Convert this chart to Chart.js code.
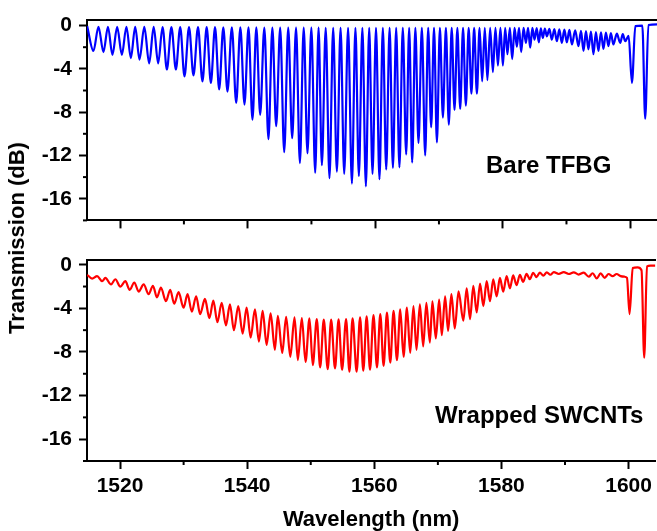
<!DOCTYPE html>
<html>
<head>
<meta charset="utf-8">
<script src="https://cdn.jsdelivr.net/npm/chart.js@4.4.1/dist/chart.umd.min.js"></script>
<style>
  html, body { margin: 0; padding: 0; background: #fff; }
  #wrap { position: relative; width: 657px; height: 531px; overflow: hidden;
          font-family: "Liberation Sans", Arial, sans-serif; font-weight: bold; color: #000; }
  canvas { position: absolute; left: 0; }
  #topChart { top: 0; }
  #botChart { top: 240px; }
  .note { position: absolute; font-size: 24px; line-height: 24px; white-space: nowrap; }
  #ylab { position: absolute; left: 17px; top: 238px; font-size: 22px; line-height: 22px;
          white-space: nowrap; transform: translate(-50%, -50%) rotate(-90deg); }
</style>
</head>
<body>
<div id="wrap">
  <canvas id="topChart" width="657" height="240"></canvas>
  <canvas id="botChart" width="657" height="291"></canvas>
  <div class="note" style="left:486px; top:153px;">Bare TFBG</div>
  <div class="note" style="left:435px; top:403px;">Wrapped SWCNTs</div>
  <div id="ylab">Transmission (dB)</div>
</div>
<script>
// axis ranges / ticks
const xRange = [1514.8, 1604.2];
const yRangeTop = [-18, 0.55];
const yRangeBot = [-18, 0.47];
const xStep = 10, xLabelEvery = 20;
const yStep = 2, yLabelEvery = 4;

// Bare TFBG: peaks and dips, in order
const topNm = [
  1514.82,
  1515.81, 1516.60, 1517.38, 1518.09, 1518.79, 1519.53, 1520.27, 1520.98, 1521.68, 1522.36,
  1523.03, 1523.79, 1524.55, 1525.26, 1525.96, 1526.65, 1527.33, 1528.04, 1528.74, 1529.42,
  1530.09, 1530.80, 1531.50, 1532.21, 1532.91, 1533.57, 1534.23, 1534.88, 1535.53, 1536.18,
  1536.83, 1537.52, 1538.20, 1538.85, 1539.50, 1540.13, 1540.75, 1541.36, 1541.96, 1542.61,
  1543.26, 1543.87, 1544.47, 1545.10, 1545.73, 1546.36, 1546.98, 1547.59, 1548.19, 1548.79,
  1549.38, 1549.99, 1550.59, 1551.12, 1551.64, 1552.24, 1552.83, 1553.41, 1553.99, 1554.57,
  1555.14, 1555.75, 1556.35, 1556.90, 1557.44, 1557.99, 1558.54, 1559.06, 1559.58, 1560.13,
  1560.67, 1561.20, 1561.73, 1562.26, 1562.78, 1563.29, 1563.80, 1564.33, 1564.86, 1565.33,
  1565.80, 1566.30, 1566.79, 1567.32, 1567.84, 1568.31, 1568.78, 1569.23, 1569.68, 1570.15,
  1570.62, 1571.09, 1571.55, 1572.00, 1572.44, 1572.89, 1573.33, 1573.78, 1574.22, 1574.66,
  1575.09, 1575.52, 1575.95, 1576.37, 1576.78, 1577.19, 1577.60, 1578.03, 1578.46, 1578.86,
  1579.25, 1579.64, 1580.03, 1580.39, 1580.74, 1581.12, 1581.49, 1581.86, 1582.22, 1582.56,
  1582.90, 1583.27, 1583.64, 1583.98, 1584.31, 1584.65, 1584.99, 1585.33, 1585.66, 1585.98,
  1586.29, 1586.61, 1586.93, 1587.32, 1587.70, 1588.10, 1588.49, 1588.88, 1589.27, 1589.67,
  1590.06, 1590.46, 1590.85, 1591.37, 1591.88, 1592.28, 1592.67, 1593.06, 1593.44, 1593.84,
  1594.23, 1594.62, 1595.01, 1595.41, 1595.80, 1596.19, 1596.58, 1596.97, 1597.36, 1597.90,
  1598.43, 1598.83, 1599.22, 1599.75,
  1600.27, 1600.80, 1601.90, 1602.35, 1602.85, 1604.24
];
const topDb = [
  -0.05,
  -2.35, -0.12, -2.45, -0.12, -2.7, -0.12, -2.7, -0.12, -3.0, -0.12,
  -3.15, -0.12, -3.5, -0.12, -3.5, -0.14, -4.05, -0.14, -4.05, -0.14,
  -4.7, -0.15, -4.6, -0.15, -5.15, -0.15, -5.3, -0.15, -5.9, -0.16,
  -6.1, -0.16, -7.15, -0.16, -7.3, -0.17, -8.7, -0.17, -8.25, -0.18,
  -10.5, -0.18, -9.3, -0.18, -11.7, -0.2, -10.4, -0.2, -12.7, -0.2,
  -11.8, -0.2, -13.6, -0.2, -12.9, -0.22, -14.1, -0.22, -13.5, -0.22,
  -13.7, -0.22, -14.6, -0.22, -13.9, -0.22, -14.85, -0.22, -13.7, -0.22,
  -14.2, -0.22, -13.3, -0.22, -13.15, -0.22, -13.1, -0.22, -11.9, -0.22,
  -12.65, -0.22, -10.85, -0.22, -12.0, -0.22, -9.4, -0.22, -10.8, -0.22,
  -8.5, -0.22, -9.15, -0.22, -7.8, -0.22, -7.7, -0.22, -7.4, -0.22,
  -6.3, -0.22, -6.3, -0.22, -5.15, -0.22, -5.05, -0.22, -4.3, -0.22,
  -3.7, -0.22, -3.7, -0.22, -2.65, -0.22, -3.1, -0.22, -1.95, -0.22,
  -2.45, -0.22, -1.6, -0.22, -2.05, -0.22, -1.3, -0.24, -1.55, -0.25,
  -1.15, -0.28, -1.0, -0.3, -1.3, -0.32, -1.45, -0.35, -1.6, -0.38,
  -1.55, -0.4, -1.75, -0.45, -1.9, -0.5, -2.35, -0.52, -2.2, -0.55,
  -2.65, -0.6, -2.35, -0.62, -2.15, -0.65, -1.9, -0.7, -1.75, -0.75,
  -1.6, -0.8, -1.45, -0.95,
  -5.3, -0.05, 0.0, -8.6, 0.05, 0.1
];

// Wrapped SWCNTs: peaks and troughs, in order
const botNm = [
  1514.82, 1515.61, 1516.39, 1517.18, 1517.69, 1518.59, 1519.26, 1520.05, 1520.83, 1521.52,
  1522.24, 1522.93, 1523.72, 1524.50, 1525.18, 1525.80, 1526.43, 1527.22, 1527.89, 1528.52,
  1529.21, 1529.99, 1530.62, 1531.29, 1531.97, 1532.60, 1533.36, 1534.05, 1534.68, 1535.31,
  1535.99, 1536.66, 1537.29, 1537.91, 1538.60, 1539.29, 1539.91, 1540.55, 1541.22, 1541.85,
  1542.43, 1543.06, 1543.69, 1544.36, 1544.82, 1545.52, 1546.13, 1546.78, 1547.45, 1547.97,
  1548.60, 1549.18, 1549.80, 1550.32, 1550.95, 1551.48, 1552.05, 1552.67, 1553.21, 1553.82,
  1554.38, 1554.93, 1555.56, 1556.08, 1556.58, 1557.22, 1557.76, 1558.27, 1558.79, 1559.33,
  1559.87, 1560.42, 1560.94, 1561.46, 1561.99, 1562.51, 1563.03, 1563.56, 1564.08, 1564.60,
  1565.13, 1565.65, 1566.16, 1566.64, 1567.17, 1567.69, 1568.19, 1568.74, 1569.14, 1569.68,
  1570.20, 1570.62, 1571.14, 1571.61, 1572.13, 1572.66, 1573.25, 1574.01, 1574.53, 1575.06,
  1575.58, 1576.11, 1576.63, 1577.15, 1577.68, 1578.20, 1578.71, 1579.25, 1579.76, 1580.28,
  1580.82, 1581.33, 1581.85, 1582.38, 1582.90, 1583.42, 1583.95, 1584.47, 1584.99, 1585.52,
  1586.04, 1586.59, 1587.14, 1587.69, 1588.24, 1589.02, 1589.80, 1590.59, 1591.37, 1592.16,
  1592.94, 1593.73, 1594.35, 1594.98, 1595.61, 1596.24, 1596.86, 1597.49, 1598.12, 1598.75,
  1599.37, 1599.75, 1600.16, 1600.65, 1601.41, 1602.04, 1602.46, 1602.90, 1603.45, 1604.24
];
const botDb = [
  -0.92, -1.27, -1.04, -1.51, -1.21, -1.81, -1.33, -2.01, -1.51, -2.31,
  -1.63, -2.46, -1.81, -2.7, -1.93, -3.0, -2.1, -3.35, -2.31, -3.58,
  -2.52, -3.94, -2.7, -4.3, -2.9, -4.53, -3.14, -4.89, -3.29, -5.27,
  -3.5, -5.57, -3.64, -6.01, -3.79, -6.31, -3.94, -6.67, -4.09, -7.05,
  -4.24, -7.35, -4.47, -7.8, -4.68, -8.09, -4.77, -8.44, -4.83, -8.74,
  -4.89, -8.92, -4.92, -9.22, -4.98, -9.42, -5.04, -9.57, -5.04, -9.51,
  -5.01, -9.63, -4.98, -9.81, -4.92, -9.81, -4.83, -9.72, -4.74, -9.63,
  -4.62, -9.42, -4.53, -9.27, -4.38, -8.98, -4.24, -8.74, -4.09, -8.44,
  -3.94, -8.09, -3.79, -7.8, -3.64, -7.5, -3.5, -7.14, -3.35, -6.76,
  -3.2, -6.46, -2.9, -6.07, -2.7, -5.85, -2.45, -5.13, -2.16, -4.98,
  -1.93, -4.38, -1.72, -3.79, -1.51, -3.35, -1.33, -2.9, -1.21, -2.46,
  -1.04, -2.16, -0.98, -1.87, -0.92, -1.57, -0.83, -1.33, -0.74, -1.13,
  -0.72, -1.0, -0.7, -0.92, -0.68, -0.85, -0.68, -0.85, -0.7, -0.9,
  -0.72, -1.1, -0.78, -1.25, -0.8, -1.2, -0.85, -1.05, -0.85, -1.05,
  -1.1, -1.2, -4.53, -0.3, -0.24, -0.5, -8.53, -0.15, -0.09, -0.09
];

Chart.defaults.font.family = '"Liberation Sans", Arial, sans-serif';
Chart.defaults.font.weight = 'bold';
Chart.defaults.color = '#000';

function isMajor(axis, v) {
  return axis === 'x' ? v % xLabelEvery === 0 : v % yLabelEvery === 0;
}

// short unlabeled ticks between the labeled ones
const minorTicks = {
  id: 'minorTicks',
  afterDraw(chart) {
    const ctx = chart.ctx;
    ctx.save();
    ctx.strokeStyle = '#000';
    ctx.lineWidth = 2;
    ['x', 'y'].forEach(function (id) {
      const s = chart.scales[id];
      s.ticks.forEach(function (t) {
        if (isMajor(id, t.value)) return;
        const p = s.getPixelForValue(t.value);
        ctx.beginPath();
        if (id === 'x') { ctx.moveTo(p, s.top); ctx.lineTo(p, s.top + 4); }
        else { ctx.moveTo(s.right, p); ctx.lineTo(s.right - 4, p); }
        ctx.stroke();
      });
    });
    ctx.restore();
  }
};

function makeChart(canvasId, nm, db, color, yRange, topH, bottomH, showX) {
  const points = nm.map(function (x, i) { return { x: x, y: db[i] }; });
  return new Chart(document.getElementById(canvasId), {
    type: 'line',
    data: {
      datasets: [{
        data: points,
        borderColor: color,
        borderWidth: 2.2,
        pointRadius: 0,
        cubicInterpolationMode: 'monotone',
        fill: false
      }]
    },
    options: {
      responsive: false,
      animation: false,
      events: [],
      layout: { padding: 0 },
      plugins: { legend: { display: false }, tooltip: { enabled: false } },
      scales: {
        x: {
          type: 'linear',
          position: 'bottom',
          min: xRange[0], max: xRange[1],
          afterFit: function (s) { s.height = bottomH; },
          border: { display: true, color: '#000', width: 2 },
          grid: {
            drawOnChartArea: false, tickLength: 8, tickWidth: 2,
            tickColor: function (c) { return c.tick && isMajor('x', c.tick.value) ? '#000' : 'rgba(0,0,0,0)'; }
          },
          ticks: {
            display: showX,
            stepSize: xStep, includeBounds: false, autoSkip: false, maxRotation: 0,
            padding: 5,
            font: { size: 21, weight: 'bold' },
            callback: function (v) { return isMajor('x', v) ? String(v) : ''; }
          },
          title: {
            display: showX,
            text: 'Wavelength (nm)',
            font: { size: 22, weight: 'bold', lineHeight: 1 },
            padding: { top: 0, bottom: 0 }
          }
        },
        x2: {
          type: 'linear',
          position: 'top',
          min: xRange[0], max: xRange[1],
          afterFit: function (s) { s.height = topH; },
          border: { display: true, color: '#000', width: 2 },
          grid: { display: false },
          ticks: { display: false }
        },
        y: {
          type: 'linear',
          position: 'left',
          min: yRange[0], max: yRange[1],
          afterFit: function (s) { s.width = 87; },
          border: { display: true, color: '#000', width: 2 },
          grid: {
            drawOnChartArea: false, tickLength: 8, tickWidth: 2,
            tickColor: function (c) { return c.tick && isMajor('y', c.tick.value) ? '#000' : 'rgba(0,0,0,0)'; }
          },
          ticks: {
            stepSize: yStep, includeBounds: false, autoSkip: false,
            padding: 7,
            font: { size: 21, weight: 'bold' },
            callback: function (v) { return isMajor('y', v) ? String(v) : ''; }
          }
        }
      }
    },
    plugins: [minorTicks]
  });
}

makeChart('topChart', topNm, topDb, '#0000ff', yRangeTop, 16, 16, false);
makeChart('botChart', botNm, botDb, '#ff0000', yRangeBot, 14, 70, true);
</script>
</body>
</html>
